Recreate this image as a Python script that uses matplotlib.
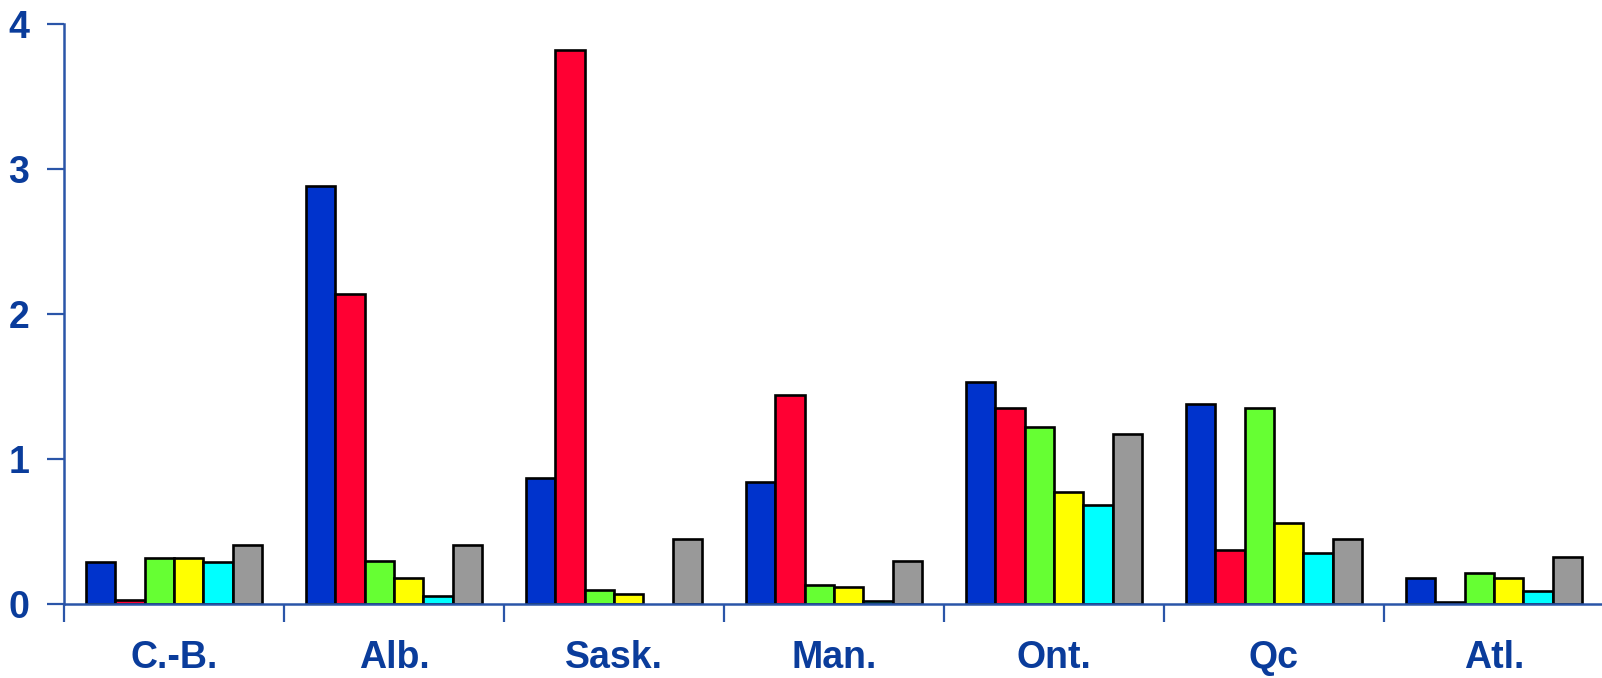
import matplotlib
matplotlib.use("Agg")
import matplotlib.pyplot as plt
import numpy as np

plt.rcParams['font.family'] = ['Liberation Sans', 'DejaVu Sans']
plt.rcParams['font.weight'] = 'bold'

categories = ["C.-B.", "Alb.", "Sask.", "Man.", "Ont.", "Qc", "Atl."]
s1 = [0.29, 2.88, 0.87, 0.84, 1.53, 1.38, 0.18]   # blue
s2 = [0.027, 2.14, 3.82, 1.44, 1.35, 0.37, 0.012]  # red
s3 = [0.316, 0.30, 0.098, 0.131, 1.22, 1.35, 0.216]  # green
s4 = [0.316, 0.18, 0.069, 0.12, 0.77, 0.56, 0.177]   # yellow
s5 = [0.29, 0.054, np.nan, 0.023, 0.685, 0.354, 0.092]  # cyan
s6 = [0.41, 0.41, 0.45, 0.30, 1.17, 0.45, 0.326]     # gray
series = [s1, s2, s3, s4, s5, s6]
colors = ["#0033CC", "#FF0033", "#66FF33", "#FFFF00", "#00FFFF", "#999999"]
yticks = [0, 1, 2, 3, 4]

fig = plt.figure(figsize=(16.02, 6.78), dpi=100)
ax = fig.add_axes([64/1602, 74/678, 1540/1602, 580/678])

n = len(series)
bw = 0.8 / n
x = np.arange(len(categories)) + 0.5
for i, (vals, c) in enumerate(zip(series, colors)):
    v = np.array(vals, dtype=float)
    mask = ~np.isnan(v)
    xs = x - 0.4 + bw * (i + 0.5)
    ax.bar(xs[mask], v[mask], width=bw, color=c, edgecolor="black",
           linewidth=1.9, zorder=2)

txt = "#0A3C9B"
sp = "#2A55A8"
ax.set_xlim(0, len(categories))
ax.set_ylim(0, 4)
ax.set_yticks(yticks)
ax.set_yticklabels([str(t) for t in yticks])
ax.set_xticks(np.arange(len(categories) + 1))
ax.set_xticklabels([])
ax.set_xticks(x, minor=True)
ax.set_xticklabels(categories, minor=True)
ax.tick_params(axis='x', which='minor', length=0, pad=26, labelsize=27, labelcolor=txt)
ax.tick_params(axis='x', which='major', length=13, width=1.6, color=sp, direction='out')
ax.tick_params(axis='y', length=12, width=1.6, color=sp, direction='out', pad=13,
               labelsize=27, labelcolor=txt)

for s in ['top', 'right']:
    ax.spines[s].set_visible(False)
for s in ['left', 'bottom']:
    ax.spines[s].set_color(sp)
    ax.spines[s].set_linewidth(1.8)
    ax.spines[s].set_zorder(3)

fig.savefig("out.png", dpi=100)
